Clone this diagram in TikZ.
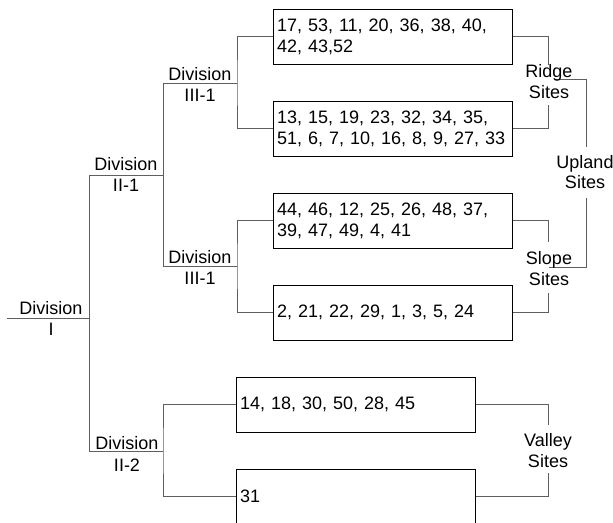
\documentclass[tikz,border=0pt]{standalone}
\usepackage{fontspec}
\setmainfont{Liberation Sans}
\definecolor{cgray}{RGB}{95,95,95}
\begin{document}
\begin{tikzpicture}[x=1pt,y=-1pt,
  conn/.style={draw=cgray, line width=1pt},
  sitebox/.style={draw=black, line width=1pt, minimum width=239pt, minimum height=55pt,
    text width=231pt, align=left, inner xsep=4pt, inner ysep=0pt,
    font=\fontsize{18}{21}\selectfont},
  lbl/.style={anchor=base, inner sep=0pt, font=\fontsize{18}{21}\selectfont}]
\useasboundingbox (0,0) rectangle (613,522);
\begin{scope}
\clip (0,0) rectangle (613,522);
% boxes
\node[sitebox] (B1) at (392.5,36.5) {17, 53, 11, 20, 36, 38, 40,\\42, 43,52};
\node[sitebox] (B2) at (392.5,128.5) {13, 15, 19, 23, 32, 34, 35,\\51, 6, 7, 10, 16, 8, 9, 27, 33};
\node[sitebox] (B3) at (392.5,220.5) {44, 46, 12, 25, 26, 48, 37,\\39, 47, 49, 4, 41};
\node[sitebox] (B4) at (392.5,312.5) {2, 21, 22, 29, 1, 3, 5, 24};
\node[sitebox] (B5) at (355.5,404.5) {14, 18, 30, 50, 28, 45};
\node[sitebox] (B6) at (355.5,496.5) {31};

% left tree coordinates
\coordinate (dI0) at (7,318);
\coordinate (dI) at (89,318);
\coordinate (j1) at (89,175);
\coordinate (j2) at (89,451);
\coordinate (k1) at (163,175);
\coordinate (k2) at (163,451);
\coordinate (m1) at (163,83);
\coordinate (m2) at (163,266);
\coordinate (n1) at (237,83);
\coordinate (n2) at (237,266);

\draw[conn] (dI0) -- (dI);
\draw[conn] (j1) -- (j2);
\draw[conn] (j1) -- (k1);
\draw[conn] (m1) -- (m2);
\draw[conn] (m1) -- (n1);
\draw[conn] (B1.west) -| (n1) |- (B2.west);
\draw[conn] (m2) -- (n2);
\draw[conn] (B3.west) -| (n2) |- (B4.west);
\draw[conn] (j2) -- (k2);
\draw[conn] (B5.west) -| (k2) |- (B6.west);

% right side coordinates
\coordinate (r1) at (548,65);
\coordinate (r2) at (548,105);
\coordinate (s1) at (548,242);
\coordinate (s2) at (548,293);
\coordinate (v1) at (548,425);
\coordinate (v2) at (548,473);
\coordinate (u0) at (555,79);
\coordinate (u1) at (586,79);
\coordinate (u2) at (586,147);
\coordinate (u3) at (586,198);
\coordinate (u4) at (586,267);
\coordinate (u5) at (549,267);

\draw[conn] (B1.east) -| (r1);
\draw[conn] (B2.east) -| (r2);
\draw[conn] (B3.east) -| (s1);
\draw[conn] (B4.east) -| (s2);
\draw[conn] (B5.east) -| (v1);
\draw[conn] (B6.east) -| (v2);
\draw[conn] (u0) -- (u1) -- (u2);
\draw[conn] (u3) -- (u4) -- (u5);

% labels
\node[lbl] (lI1) at (51,314) {Division};
\node[lbl] (lI2) at (51,335) {I};
\node[lbl] (lA1) at (126,170) {Division};
\node[lbl] (lA2) at (126,191) {II-1};
\node[lbl] (lB1) at (200,80) {Division};
\node[lbl] (lB2) at (200,101) {III-1};
\node[lbl] (lC1) at (200,263) {Division};
\node[lbl] (lC2) at (200,284) {III-1};
\node[lbl] (lD1) at (127,449) {Division};
\node[lbl] (lD2) at (127,471) {II-2};
\node[lbl] (lR1) at (549,77) {Ridge};
\node[lbl] (lR2) at (549,98) {Sites};
\node[lbl] (lU1) at (585,168) {Upland};
\node[lbl] (lU2) at (585,188) {Sites};
\node[lbl] (lS1) at (549,264) {Slope};
\node[lbl] (lS2) at (549,285) {Sites};
\node[lbl] (lV1) at (548,446) {Valley};
\node[lbl] (lV2) at (548,467) {Sites};
\end{scope}
\end{tikzpicture}
\end{document}
